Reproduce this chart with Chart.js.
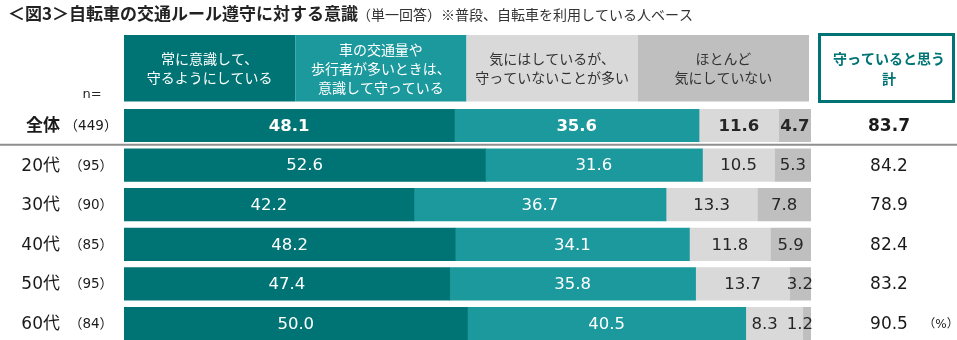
<!DOCTYPE html>
<html lang="ja">
<head>
<meta charset="UTF-8">
<title>自転車の交通ルール遵守に対する意識</title>
<script src="https://cdn.jsdelivr.net/npm/chart.js"></script>
<style>
  html, body { margin: 0; padding: 0; background: #fff; overflow: hidden; }
  #wrap { width: 957px; height: 344px; }
</style>
</head>
<body>
<div id="wrap"><canvas id="chart" width="957" height="344"></canvas></div>
<script>
// rows
const categories = ['全体', '20代', '30代', '40代', '50代', '60代'];
const sampleSizes = ['449', '95', '90', '85', '95', '84'];

// answer shares (%)
const alwaysAware = [48.1, 52.6, 42.2, 48.2, 47.4, 50.0];
const awareWhenBusy = [35.6, 31.6, 36.7, 34.1, 35.8, 40.5];
const awareButNot = [11.6, 10.5, 13.3, 11.8, 13.7, 8.3];
const hardlyAware = [4.7, 5.3, 7.8, 5.9, 3.2, 1.2];
const keepTotal = [83.7, 84.2, 78.9, 82.4, 83.2, 90.5];

const seriesLabels = [
  ['常に意識して、', '守るようにしている'],
  ['車の交通量や', '歩行者が多いときは、', '意識して守っている'],
  ['気にはしているが、', '守っていないことが多い'],
  ['ほとんど', '気にしていない']
];
const totalHeader = ['守っていると思う', '計'];

const DARK_TEAL = '#007474';
const TEAL = '#1b999d';
const colors = [DARK_TEAL, TEAL, '#d9d9d9', '#bfbfbf'];
const textColors = ['#ffffff', '#ffffff', '#262626', '#262626'];

const JP = '"Noto Sans CJK JP", sans-serif';
const NUM = '"DejaVu Sans", "Noto Sans CJK JP", sans-serif';

const decorations = {
  id: 'decorations',
  afterDraw(chart) {
    const ctx = chart.ctx;
    const area = chart.chartArea;
    const yScale = chart.scales.y;
    ctx.save();

    // title
    ctx.textBaseline = 'middle';
    ctx.textAlign = 'left';
    ctx.fillStyle = '#222';
    ctx.font = 'bold 17px ' + JP;
    const title = '＜図3＞自転車の交通ルール遵守に対する意識';
    ctx.fillText(title, 8, 14);
    const tw = ctx.measureText(title).width;
    ctx.font = '14px ' + JP;
    ctx.fillStyle = '#333';
    ctx.fillText('（単一回答）※普段、自転車を利用している人ベース', 7 + tw, 15);

    // header boxes
    const hTop = 35, hBottom = 101.5;
    const colW = (area.right - 2 - area.left) / 4;
    seriesLabels.forEach((lines, i) => {
      const x = area.left + i * colW;
      ctx.fillStyle = colors[i];
      ctx.fillRect(x, hTop, colW, hBottom - hTop);
      ctx.fillStyle = textColors[i] === '#ffffff' ? '#ffffff' : '#333';
      ctx.font = '14px ' + JP;
      ctx.textAlign = 'center';
      const lh = 19;
      const cy = (hTop + hBottom) / 2 - (lines.length - 1) * lh / 2;
      lines.forEach((t, k) => ctx.fillText(t, x + colW / 2, cy + k * lh));
    });

    // total header box
    ctx.strokeStyle = DARK_TEAL;
    ctx.lineWidth = 3;
    ctx.strokeRect(819.5, 34.5, 134, 67);
    ctx.fillStyle = DARK_TEAL;
    ctx.font = 'bold 14px ' + JP;
    ctx.fillText(totalHeader[0], 889, 59);
    ctx.fillText(totalHeader[1], 889, 79);

    // n=
    ctx.fillStyle = '#262626';
    ctx.font = '13px ' + NUM;
    ctx.fillText('n=', 92, 95);

    // separator under the overall row
    const sepY = (yScale.getPixelForValue(0) + yScale.getPixelForValue(1)) / 2 - 0.5;
    ctx.strokeStyle = '#8f8f8f';
    ctx.lineWidth = 2;
    ctx.beginPath();
    ctx.moveTo(0, sepY);
    ctx.lineTo(957, sepY);
    ctx.stroke();

    // row labels and totals
    categories.forEach((c, i) => {
      const y = yScale.getPixelForValue(i);
      const bold = i === 0 ? 'bold ' : '';
      ctx.fillStyle = '#1a1a1a';
      ctx.textAlign = 'right';
      ctx.font = bold + '17px ' + NUM;
      ctx.fillText(c, 60, y + 1);
      ctx.textAlign = 'center';
      ctx.font = '13.5px ' + NUM;
      ctx.fillText('（' + sampleSizes[i] + '）', 91, y + 1);
      ctx.font = bold + '17px ' + NUM;
      ctx.fillText(keepTotal[i].toFixed(1), 889, y + 1);
    });
    const lastY = yScale.getPixelForValue(categories.length - 1);
    ctx.font = '12px ' + NUM;
    ctx.fillText('（%）', 941, lastY + 1);

    ctx.restore();
  },
  afterDatasetsDraw(chart) {
    const ctx = chart.ctx;
    const area = chart.chartArea;
    ctx.save();
    ctx.textBaseline = 'middle';
    ctx.textAlign = 'center';
    categories.forEach((c, row) => {
      const bold = row === 0 ? 'bold ' : '';
      ctx.font = bold + '16.5px ' + NUM;
      // place labels right to left so narrow tail segments do not collide
      let limit = area.right + 2;
      for (let d = chart.data.datasets.length - 1; d >= 0; d--) {
        const el = chart.getDatasetMeta(d).data[row];
        const { x, base, y } = el.getProps(['x', 'base', 'y'], true);
        const text = chart.data.datasets[d].data[row].toFixed(1);
        const w = ctx.measureText(text).width;
        let cx = (x + base) / 2;
        if (cx + w / 2 > limit) cx = limit - w / 2;
        ctx.fillStyle = textColors[d];
        ctx.fillText(text, cx, y + 1);
        limit = cx - w / 2 - 9;
      }
    });
    ctx.restore();
  }
};

const datasetSeries = [alwaysAware, awareWhenBusy, awareButNot, hardlyAware];

new Chart(document.getElementById('chart'), {
  type: 'bar',
  data: {
    labels: categories,
    datasets: datasetSeries.map((values, i) => ({
      label: seriesLabels[i].join(''),
      data: values,
      backgroundColor: colors[i],
      borderWidth: 0,
      barThickness: 32.5
    }))
  },
  options: {
    indexAxis: 'y',
    responsive: false,
    animation: false,
    devicePixelRatio: 1,
    layout: { padding: { left: 124, right: 146, top: 105.7, bottom: 0.7 } },
    scales: {
      x: { stacked: true, min: 0, max: 100, display: false },
      y: { stacked: true, display: false }
    },
    plugins: {
      legend: { display: false },
      tooltip: { enabled: false }
    }
  },
  plugins: [decorations]
});
</script>
</body>
</html>
